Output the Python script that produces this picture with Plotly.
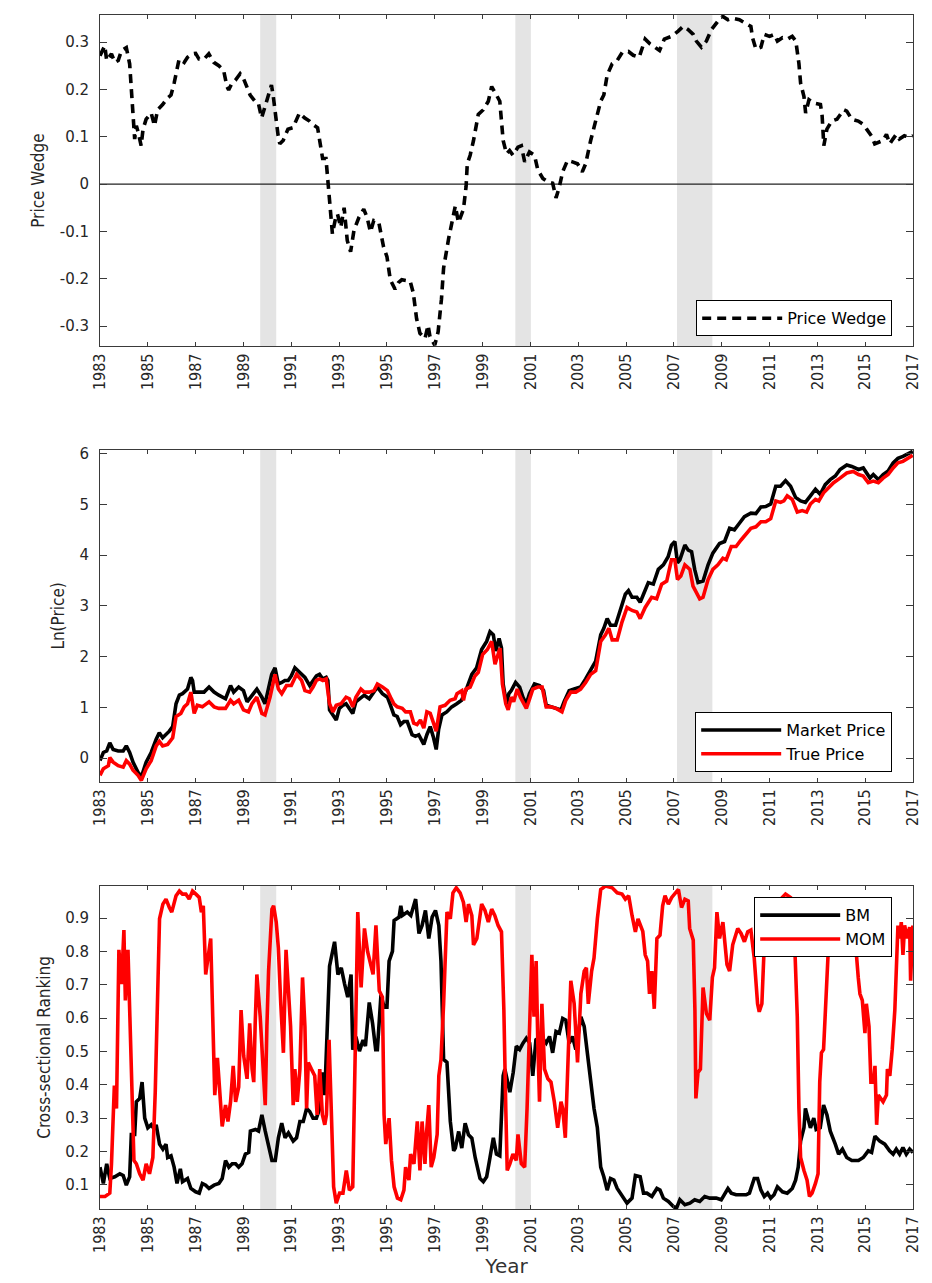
import plotly.graph_objects as go

# ---------------- data ----------------
tick_years = list(range(1983, 2018, 2))
tick_labels = [str(y) for y in tick_years]

# shaded episodes (start, end) in decimal years
band_start = [1989.70, 2000.37, 2007.13]
band_end = [1990.37, 2001.02, 2008.61]

# Panel 1: price wedge
pw_year = [1983.0, 1983.2, 1983.28, 1983.48, 1983.62, 1983.76, 1983.9, 1984.1, 1984.24, 1984.3,
           1984.38, 1984.45, 1984.52, 1984.6, 1984.72, 1984.8, 1984.93, 1985.14, 1985.28, 1985.41,
           1985.62, 1985.83, 1985.97, 1986.1, 1986.31, 1986.52, 1986.66, 1986.86, 1987.0, 1987.14,
           1987.35, 1987.55, 1987.76, 1987.97, 1988.17, 1988.31, 1988.38, 1988.52, 1988.66, 1988.86,
           1989.0, 1989.14, 1989.28, 1989.48, 1989.62, 1989.76, 1989.9, 1990.03, 1990.17, 1990.24,
           1990.31, 1990.45, 1990.52, 1990.66, 1990.86, 1991.07, 1991.34, 1991.55, 1991.76, 1991.9,
           1992.1, 1992.24, 1992.31, 1992.45, 1992.52, 1992.59, 1992.66, 1992.72, 1992.86, 1992.93,
           1993.07, 1993.21, 1993.34, 1993.48, 1993.62, 1993.83, 1994.03, 1994.17, 1994.31, 1994.45,
           1994.66, 1994.86, 1995.0, 1995.14, 1995.34, 1995.48, 1995.62, 1995.97, 1996.1, 1996.24,
           1996.38, 1996.59, 1996.72, 1996.8, 1997.0, 1997.14, 1997.28, 1997.37, 1997.58, 1997.72,
           1997.86, 1997.99, 1998.2, 1998.31, 1998.36, 1998.48, 1998.62, 1998.82, 1999.03, 1999.24,
           1999.38, 1999.58, 1999.72, 1999.79, 1999.86, 2000.0, 2000.13, 2000.27, 2000.48, 2000.62,
           2000.76, 2000.96, 2001.17, 2001.31, 2001.52, 2001.72, 2001.93, 2002.07, 2002.2, 2002.35,
           2002.55, 2002.76, 2002.97, 2003.17, 2003.31, 2003.52, 2003.73, 2003.94, 2004.07, 2004.21,
           2004.42, 2004.63, 2004.84, 2005.1, 2005.3, 2005.55, 2005.8, 2006.0, 2006.2, 2006.4,
           2006.6, 2006.9, 2007.18, 2007.39, 2007.6, 2007.81, 2007.94, 2008.15, 2008.36, 2008.57,
           2008.84, 2009.05, 2009.26, 2009.46, 2009.74, 2009.95, 2010.22, 2010.29, 2010.43, 2010.64,
           2010.78, 2011.0, 2011.2, 2011.33, 2011.54, 2011.75, 2011.95, 2012.1, 2012.23, 2012.3,
           2012.44, 2012.51, 2012.65, 2012.85, 2013.13, 2013.2, 2013.27, 2013.4, 2013.6, 2013.82,
           2014.1, 2014.23, 2014.44, 2014.71, 2014.92, 2015.06, 2015.26, 2015.4, 2015.6, 2015.74,
           2015.89, 2016.03, 2016.16, 2016.3, 2016.43, 2016.64, 2016.85, 2017.0]
pw_value = [0.271, 0.292, 0.261, 0.275, 0.257, 0.261, 0.282, 0.288, 0.254, 0.206,
            0.144, 0.095, 0.123, 0.109, 0.081, 0.116, 0.137, 0.150, 0.123, 0.157,
            0.168, 0.182, 0.188, 0.213, 0.264, 0.257, 0.268, 0.275, 0.276, 0.264,
            0.264, 0.275, 0.257, 0.250, 0.240, 0.206, 0.199, 0.213, 0.219, 0.233,
            0.223, 0.206, 0.188, 0.175, 0.171, 0.140, 0.164, 0.185, 0.209, 0.188,
            0.157, 0.102, 0.085, 0.092, 0.116, 0.119, 0.150, 0.140, 0.133, 0.126,
            0.119, 0.081, 0.054, 0.054, 0.012, -0.036, -0.070, -0.105, -0.070, -0.063,
            -0.091, -0.050, -0.119, -0.143, -0.098, -0.070, -0.053, -0.070, -0.101, -0.077,
            -0.081, -0.133, -0.153, -0.202, -0.222, -0.208, -0.202, -0.205, -0.229, -0.284,
            -0.315, -0.326, -0.298, -0.322, -0.340, -0.312, -0.243, -0.177, -0.115, -0.081,
            -0.046, -0.081, -0.053, -0.005, 0.043, 0.061, 0.092, 0.147, 0.157, 0.175,
            0.206, 0.188, 0.175, 0.133, 0.092, 0.064, 0.071, 0.061, 0.078, 0.081,
            0.047, 0.068, 0.061, 0.030, 0.012, 0.005, 0.002, -0.029, -0.008, 0.026,
            0.050, 0.047, 0.043, 0.026, 0.043, 0.092, 0.133, 0.175, 0.188, 0.230,
            0.254, 0.261, 0.278, 0.280, 0.272, 0.268, 0.306, 0.296, 0.289, 0.282,
            0.306, 0.312, 0.323, 0.333, 0.326, 0.316, 0.302, 0.289, 0.302, 0.326,
            0.344, 0.354, 0.347, 0.350, 0.347, 0.340, 0.333, 0.309, 0.285, 0.289,
            0.316, 0.312, 0.316, 0.302, 0.309, 0.306, 0.312, 0.302, 0.254, 0.213,
            0.185, 0.150, 0.178, 0.171, 0.168, 0.144, 0.081, 0.116, 0.133, 0.137,
            0.157, 0.154, 0.137, 0.133, 0.126, 0.116, 0.102, 0.085, 0.088, 0.092,
            0.105, 0.085, 0.095, 0.105, 0.095, 0.102, 0.099, 0.102]
pw_ticks = [-0.3, -0.2, -0.1, 0, 0.1, 0.2, 0.3]
pw_ticktext = ["-0.3", "-0.2", "-0.1", "0", "0.1", "0.2", "0.3"]

# Panel 2: log prices
mkt_year = [1983.0, 1983.14, 1983.28, 1983.41, 1983.55, 1983.76, 1983.97, 1984.1, 1984.24, 1984.38,
            1984.59, 1984.73, 1984.93, 1985.14, 1985.35, 1985.48, 1985.62, 1985.76, 1985.9, 1986.04,
            1986.18, 1986.32, 1986.45, 1986.66, 1986.8, 1986.87, 1986.94, 1987.14, 1987.35, 1987.56,
            1987.77, 1987.97, 1988.25, 1988.46, 1988.59, 1988.8, 1989.0, 1989.15, 1989.35, 1989.56,
            1989.77, 1989.9, 1990.04, 1990.18, 1990.32, 1990.46, 1990.6, 1990.73, 1990.87, 1991.0,
            1991.15, 1991.29, 1991.43, 1991.57, 1991.77, 1991.91, 1992.05, 1992.18, 1992.32, 1992.46,
            1992.53, 1992.6, 1992.74, 1992.88, 1993.01, 1993.15, 1993.29, 1993.43, 1993.57, 1993.7,
            1993.91, 1994.05, 1994.26, 1994.46, 1994.6, 1994.81, 1995.02, 1995.15, 1995.29, 1995.43,
            1995.57, 1995.71, 1995.85, 1996.05, 1996.19, 1996.33, 1996.54, 1996.67, 1996.81, 1996.95,
            1997.06, 1997.16, 1997.3, 1997.5, 1997.71, 1997.92, 1998.12, 1998.3, 1998.55, 1998.75,
            1998.96, 1999.17, 1999.31, 1999.45, 1999.55, 1999.69, 1999.79, 1999.86, 2000.0, 2000.1,
            2000.2, 2000.38, 2000.55, 2000.69, 2000.83, 2000.96, 2001.17, 2001.38, 2001.55, 2001.66,
            2001.86, 2002.07, 2002.28, 2002.41, 2002.62, 2002.83, 2003.1, 2003.31, 2003.52, 2003.73,
            2003.94, 2004.07, 2004.21, 2004.35, 2004.56, 2004.77, 2004.97, 2005.1, 2005.25, 2005.45,
            2005.59, 2005.73, 2005.93, 2006.14, 2006.35, 2006.56, 2006.76, 2006.9, 2007.04, 2007.15,
            2007.25, 2007.46, 2007.6, 2007.74, 2007.87, 2008.01, 2008.22, 2008.43, 2008.63, 2008.91,
            2009.12, 2009.33, 2009.53, 2009.74, 2009.95, 2010.22, 2010.43, 2010.64, 2010.84, 2011.05,
            2011.26, 2011.46, 2011.67, 2011.88, 2012.09, 2012.3, 2012.5, 2012.71, 2012.92, 2013.12,
            2013.33, 2013.54, 2013.75, 2013.95, 2014.23, 2014.44, 2014.72, 2014.92, 2015.06, 2015.2,
            2015.34, 2015.55, 2015.75, 2015.96, 2016.17, 2016.37, 2016.58, 2016.79, 2016.99]
mkt_value = [-0.05, 0.11, 0.14, 0.30, 0.17, 0.14, 0.14, 0.24, 0.11, -0.08,
             -0.28, -0.37, -0.08, 0.11, 0.37, 0.50, 0.40, 0.46, 0.53, 0.62,
             1.07, 1.24, 1.27, 1.36, 1.59, 1.53, 1.30, 1.30, 1.30, 1.40,
             1.30, 1.24, 1.17, 1.43, 1.30, 1.40, 1.33, 1.11, 1.24, 1.36,
             1.20, 1.07, 1.36, 1.65, 1.78, 1.46, 1.49, 1.53, 1.53, 1.62,
             1.78, 1.72, 1.65, 1.59, 1.43, 1.53, 1.62, 1.65, 1.56, 1.59,
             1.53, 0.95, 0.85, 0.75, 0.98, 1.04, 1.07, 0.98, 0.88, 1.11,
             1.20, 1.24, 1.17, 1.30, 1.40, 1.27, 1.20, 1.04, 0.85, 0.82,
             0.66, 0.72, 0.72, 0.46, 0.43, 0.46, 0.27, 0.46, 0.62, 0.40,
             0.17, 0.56, 0.85, 0.91, 1.01, 1.07, 1.14, 1.33, 1.65, 1.78,
             2.14, 2.30, 2.49, 2.43, 2.11, 2.36, 2.17, 1.46, 1.07, 1.27,
             1.33, 1.49, 1.40, 1.20, 1.07, 1.27, 1.46, 1.43, 1.33, 1.04,
             1.01, 0.98, 0.95, 1.11, 1.33, 1.36, 1.40, 1.56, 1.72, 1.91,
             2.43, 2.56, 2.75, 2.62, 2.62, 2.94, 3.23, 3.30, 3.17, 3.17,
             3.07, 3.23, 3.46, 3.43, 3.72, 3.81, 3.97, 4.20, 4.27, 3.85,
             3.91, 4.20, 4.10, 4.07, 3.72, 3.46, 3.49, 3.81, 4.04, 4.23,
             4.27, 4.53, 4.50, 4.63, 4.76, 4.83, 4.82, 4.95, 4.96, 5.01,
             5.36, 5.36, 5.47, 5.36, 5.14, 5.07, 5.04, 5.17, 5.30, 5.20,
             5.39, 5.49, 5.56, 5.69, 5.78, 5.75, 5.69, 5.72, 5.62, 5.52,
             5.59, 5.49, 5.59, 5.66, 5.82, 5.91, 5.95, 6.01, 6.05]

true_year = [1983.0, 1983.14, 1983.35, 1983.41, 1983.55, 1983.76, 1983.97, 1984.1, 1984.24, 1984.38,
             1984.59, 1984.73, 1984.93, 1985.14, 1985.35, 1985.48, 1985.62, 1985.83, 1986.04, 1986.18,
             1986.38, 1986.52, 1986.66, 1986.8, 1986.94, 1987.07, 1987.28, 1987.49, 1987.56, 1987.77,
             1987.97, 1988.25, 1988.46, 1988.59, 1988.8, 1989.0, 1989.21, 1989.35, 1989.56, 1989.77,
             1989.9, 1990.11, 1990.32, 1990.46, 1990.6, 1990.8, 1991.0, 1991.22, 1991.43, 1991.57,
             1991.77, 1991.91, 1992.05, 1992.18, 1992.32, 1992.46, 1992.6, 1992.74, 1992.88, 1993.08,
             1993.29, 1993.43, 1993.57, 1993.7, 1993.91, 1994.05, 1994.26, 1994.46, 1994.6, 1994.81,
             1995.02, 1995.15, 1995.29, 1995.43, 1995.64, 1995.78, 1995.98, 1996.12, 1996.26, 1996.4,
             1996.54, 1996.67, 1996.81, 1996.95, 1997.06, 1997.22, 1997.43, 1997.64, 1997.85, 1997.93,
             1998.13, 1998.2, 1998.3, 1998.48, 1998.68, 1998.82, 1999.0, 1999.2, 1999.38, 1999.52,
             1999.66, 1999.73, 1999.83, 1999.97, 2000.07, 2000.2, 2000.3, 2000.45, 2000.58, 2000.69,
             2000.83, 2000.97, 2001.1, 2001.31, 2001.49, 2001.66, 2001.86, 2002.07, 2002.32, 2002.48,
             2002.69, 2002.9, 2003.1, 2003.31, 2003.52, 2003.73, 2003.94, 2004.14, 2004.28, 2004.42,
             2004.63, 2004.83, 2005.04, 2005.25, 2005.45, 2005.59, 2005.8, 2006.07, 2006.28, 2006.49,
             2006.7, 2006.9, 2007.04, 2007.15, 2007.29, 2007.46, 2007.67, 2007.8, 2007.94, 2008.08,
             2008.22, 2008.43, 2008.63, 2008.84, 2009.05, 2009.19, 2009.4, 2009.6, 2009.81, 2010.02,
             2010.22, 2010.43, 2010.64, 2010.84, 2011.05, 2011.26, 2011.46, 2011.6, 2011.74, 2011.95,
             2012.16, 2012.37, 2012.55, 2012.71, 2012.92, 2013.06, 2013.26, 2013.47, 2013.68, 2013.95,
             2014.23, 2014.5, 2014.72, 2014.92, 2015.13, 2015.34, 2015.55, 2015.75, 2015.96, 2016.17,
             2016.37, 2016.58, 2016.79, 2016.99]
true_value = [-0.34, -0.21, -0.15, 0.01, -0.08, -0.15, -0.18, -0.05, -0.12, -0.24,
              -0.34, -0.44, -0.21, -0.05, 0.24, 0.33, 0.24, 0.27, 0.40, 0.82,
              0.88, 1.01, 1.07, 1.30, 0.88, 1.04, 1.01, 1.07, 1.11, 1.01,
              0.98, 0.98, 1.14, 1.07, 1.14, 0.95, 0.91, 1.07, 1.20, 0.88,
              0.85, 1.20, 1.65, 1.36, 1.27, 1.43, 1.43, 1.65, 1.53, 1.33,
              1.30, 1.40, 1.53, 1.56, 1.53, 1.56, 1.07, 0.91, 1.04, 1.07,
              1.20, 1.17, 1.01, 1.20, 1.36, 1.30, 1.30, 1.33, 1.46, 1.40,
              1.33, 1.20, 1.07, 1.01, 0.98, 0.91, 0.91, 0.69, 0.66, 0.75,
              0.59, 0.91, 0.88, 0.69, 0.53, 1.01, 1.04, 1.14, 1.17, 1.27,
              1.33, 1.14, 1.36, 1.40, 1.62, 1.69, 2.04, 2.14, 2.30, 1.85,
              2.11, 2.17, 1.46, 1.07, 0.95, 1.20, 1.11, 1.36, 1.20, 1.11,
              0.98, 1.17, 1.36, 1.40, 1.40, 1.01, 1.01, 0.98, 0.91, 1.14,
              1.30, 1.30, 1.36, 1.49, 1.65, 1.72, 2.30, 2.43, 2.56, 2.33,
              2.33, 2.68, 2.97, 2.91, 2.88, 2.75, 2.97, 3.17, 3.14, 3.43,
              3.49, 3.91, 3.91, 3.52, 3.59, 3.81, 3.72, 3.39, 3.26, 3.14,
              3.17, 3.52, 3.72, 3.81, 3.94, 3.91, 4.17, 4.17, 4.30, 4.43,
              4.53, 4.56, 4.66, 4.66, 4.72, 5.07, 5.04, 5.07, 5.17, 5.10,
              4.85, 4.88, 4.85, 5.01, 5.10, 5.07, 5.23, 5.33, 5.43, 5.52,
              5.62, 5.65, 5.59, 5.56, 5.43, 5.46, 5.43, 5.52, 5.59, 5.72,
              5.82, 5.85, 5.91, 5.97]

# Panel 3: cross-sectional rankings
bm_year = [1983.0, 1983.14, 1983.28, 1983.41, 1983.62, 1983.83, 1983.97, 1984.1, 1984.24, 1984.31,
           1984.45, 1984.52, 1984.66, 1984.76, 1984.87, 1985.0, 1985.14, 1985.28, 1985.35, 1985.49,
           1985.63, 1985.76, 1985.83, 1985.97, 1986.1, 1986.22, 1986.36, 1986.45, 1986.66, 1986.8,
           1987.0, 1987.15, 1987.28, 1987.42, 1987.56, 1987.77, 1987.97, 1988.11, 1988.25, 1988.39,
           1988.53, 1988.67, 1988.8, 1988.94, 1989.08, 1989.22, 1989.29, 1989.5, 1989.63, 1989.77,
           1989.91, 1990.05, 1990.19, 1990.33, 1990.46, 1990.6, 1990.74, 1990.88, 1991.08, 1991.22,
           1991.36, 1991.5, 1991.64, 1991.77, 1991.91, 1992.05, 1992.19, 1992.3, 1992.4, 1992.6,
           1992.81, 1992.95, 1993.09, 1993.23, 1993.36, 1993.5, 1993.57, 1993.7, 1993.85, 1994.0,
           1994.1, 1994.26, 1994.4, 1994.53, 1994.6, 1994.75, 1994.88, 1995.0, 1995.09, 1995.23,
           1995.3, 1995.51, 1995.58, 1995.65, 1995.85, 1996.0, 1996.2, 1996.34, 1996.47, 1996.61,
           1996.75, 1996.89, 1997.03, 1997.17, 1997.26, 1997.37, 1997.51, 1997.65, 1997.79, 1997.86,
           1998.0, 1998.13, 1998.27, 1998.41, 1998.55, 1998.69, 1998.89, 1999.03, 1999.17, 1999.31,
           1999.45, 1999.58, 1999.72, 1999.86, 1999.93, 2000.14, 2000.28, 2000.41, 2000.55, 2000.69,
           2000.83, 2000.97, 2001.1, 2001.23, 2001.45, 2001.66, 2001.8, 2001.93, 2002.07, 2002.21,
           2002.35, 2002.48, 2002.62, 2002.76, 2002.9, 2003.11, 2003.25, 2003.38, 2003.52, 2003.66,
           2003.8, 2003.94, 2004.07, 2004.21, 2004.35, 2004.49, 2004.63, 2004.84, 2005.04, 2005.25,
           2005.39, 2005.59, 2005.73, 2005.87, 2006.08, 2006.29, 2006.42, 2006.56, 2006.77, 2006.98,
           2007.11, 2007.25, 2007.46, 2007.67, 2007.87, 2008.08, 2008.29, 2008.5, 2008.77, 2008.98,
           2009.26, 2009.4, 2009.6, 2009.81, 2010.02, 2010.16, 2010.36, 2010.5, 2010.64, 2010.78,
           2010.92, 2011.05, 2011.19, 2011.33, 2011.54, 2011.74, 2011.95, 2012.09, 2012.2, 2012.3,
           2012.44, 2012.5, 2012.64, 2012.71, 2012.85, 2012.95, 2013.12, 2013.26, 2013.4, 2013.54,
           2013.75, 2013.89, 2014.05, 2014.23, 2014.44, 2014.72, 2014.92, 2015.13, 2015.27, 2015.41,
           2015.61, 2015.82, 2016.02, 2016.17, 2016.3, 2016.44, 2016.58, 2016.72, 2016.86, 2017.0]
bm_value = [0.153, 0.104, 0.163, 0.119, 0.124, 0.133, 0.128, 0.099, 0.124, 0.251,
            0.251, 0.349, 0.359, 0.408, 0.300, 0.271, 0.280, 0.266, 0.280, 0.222,
            0.207, 0.222, 0.182, 0.187, 0.153, 0.104, 0.148, 0.109, 0.119, 0.089,
            0.079, 0.075, 0.104, 0.099, 0.089, 0.099, 0.104, 0.119, 0.173, 0.153,
            0.163, 0.163, 0.153, 0.163, 0.192, 0.197, 0.261, 0.266, 0.261, 0.310,
            0.261, 0.222, 0.173, 0.173, 0.241, 0.285, 0.241, 0.256, 0.231, 0.241,
            0.290, 0.290, 0.329, 0.320, 0.300, 0.300, 0.329, 0.437, 0.369, 0.756,
            0.829, 0.731, 0.751, 0.702, 0.663, 0.731, 0.505, 0.544, 0.501, 0.534,
            0.516, 0.647, 0.584, 0.505, 0.505, 0.670, 0.633, 0.633, 0.771, 0.800,
            0.893, 0.903, 0.937, 0.908, 0.918, 0.908, 0.957, 0.854, 0.878, 0.923,
            0.839, 0.903, 0.923, 0.878, 0.771, 0.476, 0.467, 0.290, 0.202, 0.210,
            0.260, 0.210, 0.285, 0.250, 0.240, 0.182, 0.119, 0.109, 0.124, 0.182,
            0.241, 0.192, 0.187, 0.427, 0.447, 0.378, 0.437, 0.516, 0.506, 0.525,
            0.540, 0.525, 0.427, 0.535, 0.545, 0.525, 0.545, 0.496, 0.560, 0.555,
            0.599, 0.594, 0.525, 0.545, 0.506, 0.604, 0.575, 0.496, 0.408, 0.329,
            0.271, 0.153, 0.124, 0.084, 0.119, 0.114, 0.089, 0.065, 0.045, 0.060,
            0.128, 0.124, 0.075, 0.075, 0.065, 0.089, 0.084, 0.060, 0.050, 0.035,
            0.030, 0.055, 0.040, 0.045, 0.055, 0.050, 0.065, 0.060, 0.060, 0.055,
            0.089, 0.075, 0.070, 0.070, 0.070, 0.075, 0.119, 0.119, 0.084, 0.065,
            0.075, 0.060, 0.070, 0.094, 0.079, 0.075, 0.089, 0.114, 0.153, 0.231,
            0.271, 0.329, 0.290, 0.271, 0.300, 0.266, 0.271, 0.339, 0.310, 0.261,
            0.222, 0.192, 0.207, 0.182, 0.173, 0.173, 0.182, 0.202, 0.197, 0.246,
            0.231, 0.222, 0.202, 0.192, 0.207, 0.192, 0.212, 0.192, 0.207, 0.197]

mom_year = [1983.0, 1983.21, 1983.41, 1983.48, 1983.6, 1983.69, 1983.79, 1983.9, 1984.0, 1984.06,
            1984.17, 1984.24, 1984.34, 1984.42, 1984.52, 1984.66, 1984.8, 1984.93, 1985.07, 1985.21,
            1985.31, 1985.39, 1985.49, 1985.63, 1985.76, 1985.9, 1986.0, 1986.18, 1986.32, 1986.45,
            1986.59, 1986.73, 1986.87, 1987.01, 1987.15, 1987.24, 1987.32, 1987.42, 1987.52, 1987.63,
            1987.7, 1987.8, 1987.91, 1988.02, 1988.11, 1988.25, 1988.35, 1988.46, 1988.57, 1988.67,
            1988.8, 1988.9, 1989.01, 1989.15, 1989.26, 1989.36, 1989.43, 1989.49, 1989.56, 1989.7,
            1989.8, 1989.91, 1989.98, 1990.05, 1990.19, 1990.26, 1990.37, 1990.46, 1990.56, 1990.67,
            1990.78, 1990.89, 1990.97, 1991.08, 1991.15, 1991.25, 1991.36, 1991.47, 1991.57, 1991.64,
            1991.71, 1991.84, 1991.98, 1992.08, 1992.19, 1992.3, 1992.4, 1992.47, 1992.58, 1992.67,
            1992.77, 1992.88, 1993.02, 1993.16, 1993.3, 1993.43, 1993.57, 1993.68, 1993.78, 1993.92,
            1994.06, 1994.19, 1994.33, 1994.42, 1994.54, 1994.68, 1994.81, 1994.88, 1994.95, 1995.09,
            1995.19, 1995.3, 1995.44, 1995.58, 1995.71, 1995.78, 1995.92, 1995.99, 1996.13, 1996.27,
            1996.38, 1996.47, 1996.59, 1996.65, 1996.75, 1996.85, 1996.96, 1997.1, 1997.17, 1997.26,
            1997.37, 1997.51, 1997.65, 1997.76, 1997.9, 1998.06, 1998.2, 1998.31, 1998.41, 1998.55,
            1998.62, 1998.76, 1998.96, 1999.1, 1999.24, 1999.38, 1999.51, 1999.65, 1999.79, 1999.89,
            1999.97, 2000.03, 2000.14, 2000.27, 2000.41, 2000.48, 2000.62, 2000.76, 2000.86, 2000.97,
            2001.06, 2001.15, 2001.24, 2001.31, 2001.38, 2001.48, 2001.59, 2001.73, 2001.86, 2002.0,
            2002.14, 2002.28, 2002.35, 2002.46, 2002.56, 2002.69, 2002.83, 2002.97, 2003.11, 2003.25,
            2003.34, 2003.42, 2003.56, 2003.66, 2003.8, 2003.94, 2004.14, 2004.42, 2004.63, 2004.83,
            2004.97, 2005.11, 2005.25, 2005.39, 2005.5, 2005.6, 2005.7, 2005.8, 2005.9, 2005.98,
            2006.08, 2006.18, 2006.29, 2006.42, 2006.53, 2006.63, 2006.77, 2006.91, 2007.05, 2007.19,
            2007.32, 2007.46, 2007.6, 2007.66, 2007.81, 2007.88, 2007.92, 2008.01, 2008.11, 2008.22,
            2008.36, 2008.5, 2008.61, 2008.7, 2008.8, 2008.91, 2009.05, 2009.22, 2009.33, 2009.46,
            2009.67, 2009.81, 2009.95, 2010.09, 2010.22, 2010.36, 2010.5, 2010.57, 2010.68, 2010.78,
            2010.92, 2011.05, 2011.12, 2011.26, 2011.4, 2011.47, 2011.67, 2011.88, 2012.02, 2012.16,
            2012.23, 2012.3, 2012.44, 2012.57, 2012.67, 2012.78, 2012.92, 2013.03, 2013.1, 2013.17,
            2013.26, 2013.33, 2013.4, 2013.5, 2013.61, 2013.75, 2013.9, 2014.2, 2014.45, 2014.58,
            2014.71, 2014.78, 2014.88, 2014.99, 2015.05, 2015.16, 2015.24, 2015.35, 2015.41, 2015.48,
            2015.55, 2015.75, 2015.89, 2015.93, 2016.03, 2016.13, 2016.24, 2016.31, 2016.37, 2016.44,
            2016.51, 2016.58, 2016.65, 2016.76, 2016.86, 2016.9, 2016.99]
mom_value = [0.065, 0.065, 0.075, 0.163, 0.398, 0.329, 0.805, 0.702, 0.864, 0.653,
             0.805, 0.624, 0.427, 0.173, 0.163, 0.133, 0.114, 0.163, 0.133, 0.182,
             0.378, 0.624, 0.898, 0.942, 0.957, 0.932, 0.918, 0.967, 0.981, 0.972,
             0.972, 0.957, 0.981, 0.972, 0.962, 0.918, 0.937, 0.731, 0.790, 0.839,
             0.643, 0.369, 0.481, 0.369, 0.275, 0.339, 0.290, 0.349, 0.457, 0.349,
             0.393, 0.624, 0.486, 0.418, 0.584, 0.447, 0.408, 0.584, 0.731, 0.604,
             0.467, 0.339, 0.575, 0.741, 0.927, 0.937, 0.888, 0.810, 0.643, 0.496,
             0.805, 0.663, 0.575, 0.339, 0.447, 0.349, 0.447, 0.722, 0.575, 0.329,
             0.467, 0.447, 0.427, 0.310, 0.447, 0.310, 0.280, 0.310, 0.535, 0.329,
             0.094, 0.045, 0.075, 0.075, 0.143, 0.084, 0.094, 0.525, 0.918, 0.692,
             0.869, 0.800, 0.761, 0.731, 0.878, 0.682, 0.663, 0.310, 0.222, 0.300,
             0.173, 0.094, 0.060, 0.055, 0.084, 0.153, 0.114, 0.192, 0.163, 0.290,
             0.143, 0.290, 0.163, 0.251, 0.339, 0.153, 0.182, 0.251, 0.427, 0.476,
             0.643, 0.918, 0.898, 0.976, 0.991, 0.976, 0.947, 0.888, 0.942, 0.908,
             0.820, 0.839, 0.942, 0.923, 0.888, 0.927, 0.908, 0.878, 0.859, 0.624,
             0.329, 0.143, 0.163, 0.192, 0.173, 0.251, 0.163, 0.153, 0.329, 0.545,
             0.790, 0.604, 0.771, 0.525, 0.349, 0.643, 0.447, 0.418, 0.408, 0.349,
             0.271, 0.349, 0.329, 0.241, 0.467, 0.712, 0.643, 0.467, 0.673, 0.741,
             0.751, 0.643, 0.741, 0.780, 0.898, 0.986, 0.996, 0.991, 0.976, 0.972,
             0.957, 0.967, 0.908, 0.859, 0.898, 0.878, 0.860, 0.790, 0.771, 0.673,
             0.741, 0.628, 0.839, 0.849, 0.937, 0.967, 0.942, 0.962, 0.976, 0.986,
             0.932, 0.957, 0.952, 0.869, 0.834, 0.624, 0.359, 0.437, 0.447, 0.692,
             0.614, 0.594, 0.722, 0.751, 0.918, 0.839, 0.888, 0.761, 0.741, 0.820,
             0.869, 0.854, 0.829, 0.859, 0.864, 0.780, 0.643, 0.619, 0.643, 0.820,
             0.869, 0.839, 0.859, 0.878, 0.918, 0.957, 0.972, 0.962, 0.888, 0.604,
             0.329, 0.182, 0.143, 0.114, 0.065, 0.075, 0.104, 0.133, 0.408, 0.496,
             0.506, 0.624, 0.761, 0.869, 0.898, 0.849, 0.930, 0.950, 0.920, 0.839,
             0.722, 0.673, 0.653, 0.555, 0.643, 0.575, 0.408, 0.408, 0.457, 0.280,
             0.369, 0.349, 0.369, 0.447, 0.427, 0.506, 0.624, 0.780, 0.878, 0.839,
             0.888, 0.790, 0.878, 0.839, 0.873, 0.712, 0.878]

# ---------------- styling ----------------
NARROW = "Liberation Sans Narrow, DejaVu Sans Condensed, Arial Narrow, Liberation Sans, sans-serif"
WIDE = "DejaVu Sans, Verdana, sans-serif"
AXIS_GREY = "#3a3a3a"
TEXT_GREY = "#262626"
BAND_GREY = "#e4e4e4"
LW = 3.6

fig = go.Figure()

fig.add_trace(go.Scatter(x=pw_year, y=pw_value, mode="lines", name="Price Wedge",
                         line=dict(color="black", width=LW, dash="9px,6px"),
                         xaxis="x", yaxis="y", legend="legend"))
fig.add_trace(go.Scatter(x=mkt_year, y=mkt_value, mode="lines", name="Market Price",
                         line=dict(color="black", width=LW),
                         xaxis="x2", yaxis="y2", legend="legend2"))
fig.add_trace(go.Scatter(x=true_year, y=true_value, mode="lines", name="True Price",
                         line=dict(color="#ff0000", width=LW),
                         xaxis="x2", yaxis="y2", legend="legend2"))
fig.add_trace(go.Scatter(x=bm_year, y=bm_value, mode="lines", name="BM",
                         line=dict(color="black", width=LW),
                         xaxis="x3", yaxis="y3", legend="legend3"))
fig.add_trace(go.Scatter(x=mom_year, y=mom_value, mode="lines", name="MOM",
                         line=dict(color="#ff0000", width=LW),
                         xaxis="x3", yaxis="y3", legend="legend3"))

# shaded episodes in every panel
for xr, yr in [("x", "y domain"), ("x2", "y2 domain"), ("x3", "y3 domain")]:
    for x0, x1 in zip(band_start, band_end):
        fig.add_shape(type="rect", xref=xr, yref=yr, x0=x0, x1=x1, y0=0, y1=1,
                      fillcolor=BAND_GREY, line_width=0, layer="below")

# zero reference in the wedge panel
fig.add_shape(type="line", xref="x domain", yref="y", x0=0, x1=1, y0=0, y1=0,
              line=dict(color="#222222", width=1.2), layer="below")


def xaxis_style(anchor, show_title=False):
    d = dict(anchor=anchor, range=[1983, 2017], tickmode="array", tickvals=tick_years,
             ticktext=tick_labels, tickangle=-90, ticks="inside", ticklen=4, tickwidth=1,
             tickcolor=AXIS_GREY, showline=True, linecolor=AXIS_GREY, linewidth=1,
             mirror="ticks", showgrid=False, zeroline=False,
             tickfont=dict(family=NARROW, size=16, color=TEXT_GREY))
    if show_title:
        d["title"] = dict(text="Year", standoff=6,
                          font=dict(family=WIDE, size=20, color="#333333"))
    return d


def yaxis_style(anchor, domain, rng, title, tickvals, ticktext=None):
    d = dict(anchor=anchor, domain=domain, range=rng, tickmode="array", tickvals=tickvals,
             ticks="inside", ticklen=7, tickwidth=1, tickcolor=AXIS_GREY, showline=True,
             linecolor=AXIS_GREY, linewidth=1, mirror="ticks", showgrid=False, zeroline=False,
             ticklabelstandoff=7,
             tickfont=dict(family=WIDE, size=15, color=TEXT_GREY),
             title=dict(text=title, standoff=10, font=dict(family=NARROW, size=17, color=TEXT_GREY)))
    if ticktext is not None:
        d["ticktext"] = ticktext
    return d


rank_ticks = [0.1, 0.2, 0.3, 0.4, 0.5, 0.6, 0.7, 0.8, 0.9]

legend_common = dict(bgcolor="white", bordercolor="black", borderwidth=1, xanchor="right",
                     x=0.9744, itemwidth=80, tracegroupgap=0,
                     font=dict(family=WIDE, size=16, color="black"))

fig.update_layout(
    width=932, height=1283,
    margin=dict(l=100, r=12, t=10, b=54),
    paper_bgcolor="white", plot_bgcolor="white",
    xaxis=xaxis_style("y"),
    xaxis2=xaxis_style("y2"),
    xaxis3=xaxis_style("y3", show_title=True),
    yaxis=yaxis_style("x", [0.7227, 1.0], [-0.342, 0.357], "Price Wedge", pw_ticks, pw_ticktext),
    yaxis2=yaxis_style("x2", [0.3577, 0.6358], [-0.47, 6.077], "Ln(Price)", [0, 1, 2, 3, 4, 5, 6]),
    yaxis3=yaxis_style("x3", [0.0, 0.2707], [0.0274, 0.997], "Cross-sectional Ranking", rank_ticks),
    legend=dict(legend_common, y=0.7309, yanchor="bottom"),
    legend2=dict(legend_common, y=0.3659, yanchor="bottom"),
    legend3=dict(legend_common, y=0.2611, yanchor="top"),
    showlegend=True,
)

fig.write_html("out.html")
